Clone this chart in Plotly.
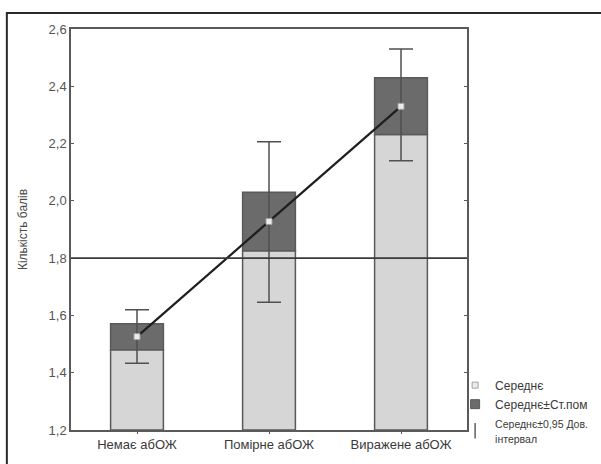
import plotly.graph_objects as go

# Groups and summary statistics
categories = ["Немає абОЖ", "Помірне абОЖ", "Виражене абОЖ"]
means = [1.526, 1.928, 2.330]
se_low = [1.480, 1.826, 2.232]      # mean - standard error
se_high = [1.571, 2.030, 2.430]     # mean + standard error
ci_low = [1.433, 1.646, 2.140]      # lower 95% confidence limit
ci_high = [1.620, 2.206, 2.530]     # upper 95% confidence limit
axis_floor = 1.2
reference_level = 1.8
y_ticks = [1.2, 1.4, 1.6, 1.8, 2.0, 2.2, 2.4, 2.6]

font_family = "Liberation Sans, Arial, sans-serif"
edge = "#5a5a5a"
dark_fill = "#6b6b6b"

fig = go.Figure()

# Light part of each bar: from the axis floor up to mean - SE
fig.add_trace(go.Bar(
    x=categories,
    y=[v - axis_floor for v in se_low],
    base=[axis_floor] * len(categories),
    width=0.4,
    marker=dict(color="#d6d6d6", line=dict(color=edge, width=1.5)),
    showlegend=False,
    hoverinfo="skip",
))

# Dark part: mean ± SE
fig.add_trace(go.Bar(
    x=categories,
    y=[h - l for h, l in zip(se_high, se_low)],
    base=se_low,
    width=0.4,
    marker=dict(color=dark_fill, line=dict(color=edge, width=1.5)),
    showlegend=False,
    hoverinfo="skip",
))

# 95% confidence intervals
fig.add_trace(go.Scatter(
    x=categories,
    y=means,
    mode="markers",
    marker=dict(size=1, opacity=0),
    error_y=dict(
        type="data",
        symmetric=False,
        array=[h - m for h, m in zip(ci_high, means)],
        arrayminus=[m - l for m, l in zip(means, ci_low)],
        color="#505050",
        thickness=1.5,
        width=12,
    ),
    showlegend=False,
    hoverinfo="skip",
))

# Line connecting the group means
fig.add_trace(go.Scatter(
    x=categories,
    y=means,
    mode="lines",
    line=dict(color="#1e1e1e", width=2.2),
    showlegend=False,
))

# Mean markers
fig.add_trace(go.Scatter(
    x=categories,
    y=means,
    mode="markers",
    marker=dict(symbol="square", size=6, color="#ececec",
                line=dict(color="#a0a0a0", width=1)),
    name="Середнє",
    legendrank=1,
))

# Legend-only entries: SE box swatch and CI whisker
fig.add_trace(go.Scatter(
    x=[None],
    y=[None],
    mode="markers",
    marker=dict(symbol="square", size=9, color=dark_fill,
                line=dict(color=edge, width=1)),
    name="Середнє±Ст.пом",
    legendrank=2,
))
fig.add_trace(go.Scatter(
    x=[None],
    y=[None],
    mode="markers",
    marker=dict(symbol="line-ns-open", size=11, color="#606060",
                line=dict(color="#606060", width=1.5)),
    name="<span style='font-size:10.5px'>Середнє±0,95 Дов.<br>інтервал</span>",
    legendrank=3,
))

# Reference level across the plot
fig.add_shape(type="line", xref="paper", yref="y",
              x0=0, x1=1, y0=reference_level, y1=reference_level,
              line=dict(color="#3a3a3a", width=1.6))

# Outer frame around the figure
fig.add_shape(type="rect", xref="paper", yref="paper",
              x0=-0.162, x1=1.6, y0=-0.3, y1=1.04,
              line=dict(color="#2a2a2a", width=2), layer="below")

fig.update_layout(
    width=601,
    height=464,
    margin=dict(l=71, r=134, t=29, b=34, autoexpand=False),
    paper_bgcolor="white",
    plot_bgcolor="white",
    barmode="overlay",
    separators=", ",
    font=dict(family=font_family, color="#4a4a4a", size=13),
    legend=dict(
        x=0.97, y=0.148, xanchor="left", yanchor="top",
        bgcolor="rgba(0,0,0,0)",
        font=dict(size=12, color="#3a3a3a"),
        itemwidth=30,
        tracegroupgap=0,
        traceorder="normal",
    ),
    xaxis=dict(
        showline=True, linecolor=edge, linewidth=1.5, mirror=True,
        ticks="outside", ticklen=2, tickcolor=edge,
        tickfont=dict(size=13, color="#3a3a3a"),
        showgrid=False,
    ),
    yaxis=dict(
        range=[axis_floor, 2.6],
        tickvals=y_ticks,
        tickformat=".1f",
        showline=True, linecolor=edge, linewidth=1.5, mirror="ticks",
        ticks="inside", ticklen=3, tickcolor=edge,
        tickfont=dict(size=13, color="#555555"),
        showgrid=False, zeroline=False,
        title=dict(text="Кількість балів", font=dict(size=12, color="#4a4a4a"), standoff=18),
    ),
)

fig.write_html("out.html")
